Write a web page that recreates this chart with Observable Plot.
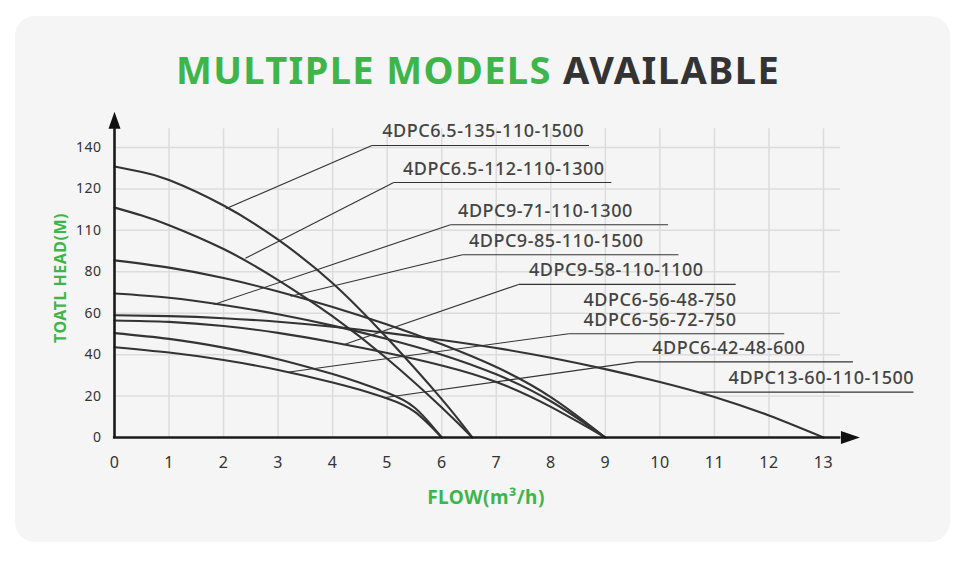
<!DOCTYPE html>
<html><head><meta charset="utf-8">
<script src="https://cdn.jsdelivr.net/npm/d3@7"></script>
<script src="https://cdn.jsdelivr.net/npm/@observablehq/plot@0.6"></script>
<style>
html,body{margin:0;padding:0;background:#fff;}
#wrap{position:relative;width:970px;height:563px;overflow:hidden;font-family:"Noto Sans",sans-serif;}
#panel{position:absolute;left:15px;top:16px;width:935px;height:526px;background:#f5f5f5;border-radius:20px;}
#title{position:absolute;left:-7px;top:49px;width:970px;text-align:center;font-weight:700;font-size:38px;line-height:40px;letter-spacing:1.4px;color:#333;white-space:nowrap;}
#title .g{color:#3db54a;}
#chart{position:absolute;left:0;top:0;}
</style></head>
<body><div id="wrap"><div id="panel"></div><div id="title"><span class="g">MULTIPLE MODELS</span> AVAILABLE</div><div id="chart"></div></div>
<script>
// ---- data (flow m3/h, head m) ----
const flowA = [0, 0.5, 1, 2, 3, 4, 5, 6, 6.56];
const headA = [130.8, 128.2, 124.3, 112, 95.5, 74.5, 48, 18.5, 0];
const flowB = [0, 0.5, 1, 2, 3, 4, 5, 6, 6.56];
const headB = [111, 107.2, 102.5, 91, 76, 58.5, 38, 14.5, 0];
const flowC = [0, 1, 2, 3, 4, 5, 6, 7, 8, 9];
const headC = [85.5, 82, 77, 70.5, 63, 54.5, 45, 34, 19.5, 0];
const flowD = [0, 1, 2, 3, 4, 5, 6, 7, 8, 9];
const headD = [69.5, 67.5, 64, 59.5, 54, 47.5, 40, 30.5, 17.5, 0];
const flowE = [0, 1, 2, 3, 4, 5, 6, 7, 8, 9, 10, 11, 12, 13];
const headE = [59, 58.6, 57.6, 55.9, 53.5, 50.5, 47.1, 43.2, 38.5, 33, 26.8, 19.6, 10.6, 0];
const flowF = [0, 1, 2, 3, 4, 5, 6, 7, 8, 9];
const headF = [56.5, 55.8, 53.8, 50.5, 46, 40.8, 34.8, 26.8, 14.8, 0];
const flowG = [0, 1, 2, 3, 4, 4.5, 5, 5.5, 6];
const headG = [50.4, 47.6, 43.4, 37.8, 30.6, 26.4, 21.6, 14.5, 0];
const flowH = [0, 1, 2, 3, 4, 4.5, 5, 5.5, 6];
const headH = [43.6, 41, 37.4, 32.6, 26.6, 23, 18.8, 12.5, 0];

const labelNames = ["4DPC6.5-135-110-1500", "4DPC6.5-112-110-1300", "4DPC9-71-110-1300", "4DPC9-85-110-1500",
  "4DPC9-58-110-1100", "4DPC6-56-48-750\n4DPC6-56-72-750", "4DPC6-42-48-600", "4DPC13-60-110-1500"];
const anchorFlow = [2.04, 2.40, 1.82, 3.23, 4.20, 3.17, 4.94, 10.74];
const anchorHead = [110.4, 86.5, 64.2, 68.2, 44.8, 31.5, 19.2, 21.9];
const bendFlow = [4.72, 5.12, 6.16, 6.38, 7.41, 8.33, 9.58, 10.74];
const bendHead = [141.0, 123.1, 102.7, 88.2, 73.9, 50.1, 36.5, 21.9];
const endFlow = [8.70, 9.11, 10.15, 10.34, 11.39, 12.28, 13.54, 14.65];
const textFlow = [4.91, 5.29, 6.30, 6.50, 7.60, 8.60, 9.86, 11.26];

const xTicks = [0, 1, 2, 3, 4, 5, 6, 7, 8, 9, 10, 11, 12, 13];
const yTicks = [0, 20, 40, 60, 80, 100, 120, 140];
const yTickLabels = ["0", "20", "40", "60", "80", "110", "120", "140"];
const xGrid = [1, 2, 3, 4, 5, 6, 7, 8, 9, 10, 11, 12, 13];
const yGrid = [20, 40, 60, 80, 100, 120, 140];

// ---- build tables ----
const series = [[flowA, headA, "A"], [flowB, headB, "B"], [flowC, headC, "C"], [flowD, headD, "D"],
  [flowE, headE, "E"], [flowF, headF, "F"], [flowG, headG, "G"], [flowH, headH, "H"]];
const curves = series.flatMap(([f, h, id]) => f.map((q, i) => ({model: id, flow: q, head: h[i]})));
const leaders = labelNames.map((name, i) => ({name, ax: anchorFlow[i], ay: anchorHead[i], bx: bendFlow[i], by: bendHead[i], ex: endFlow[i], tx: textFlow[i]}));

const upArrow = {draw(ctx) { ctx.moveTo(0, -17); ctx.lineTo(6, 0); ctx.lineTo(-6, 0); ctx.closePath(); }};
const rightArrow = {draw(ctx) { ctx.moveTo(19, 0); ctx.lineTo(0, -6.5); ctx.lineTo(0, 6.5); ctx.closePath(); }};

const font = "Noto Sans, sans-serif";
const green = "#3db54a";

const chart = Plot.plot({
  width: 970, height: 563,
  marginLeft: 114, marginRight: 147, marginTop: 147, marginBottom: 126,
  style: {background: "transparent", overflow: "visible", fontFamily: font},
  x: {domain: [0, 13], axis: null},
  y: {domain: [0, 140], axis: null},
  marks: [
    Plot.ruleX(xGrid, {x: d => d, y1: 0, y2: 149, stroke: "#dcdcdc", strokeWidth: 1.5}),
    Plot.ruleY(yGrid, {y: d => d, x1: 0, x2: 13.31, stroke: "#dcdcdc", strokeWidth: 1.5}),
    Plot.line(curves, {x: "flow", y: "head", z: "model", curve: "natural", stroke: "#333", strokeWidth: 2.1}),
    Plot.link(leaders, {x1: "ax", y1: "ay", x2: "bx", y2: "by", stroke: "#333", strokeWidth: 1.1}),
    Plot.link(leaders, {x1: "bx", y1: "by", x2: "ex", y2: "by", stroke: "#333", strokeWidth: 1.1}),
    Plot.text(leaders, {x: "tx", y: "by", text: "name", textAnchor: "start", lineAnchor: "bottom", dy: -8, lineHeight: 1.1,
      fontSize: 18, fontWeight: 500, fill: "#444", fontFamily: font}),
    Plot.ruleX([0], {y1: 0, y2: 149, stroke: "#1a1a1a", strokeWidth: 2.6}),
    Plot.ruleY([0], {x1: -0.02, x2: 13.32, stroke: "#1a1a1a", strokeWidth: 2.6}),
    Plot.dot([0], {x: 0, y: 149, symbol: upArrow, fill: "#111", stroke: "none", r: 5}),
    Plot.dot([0], {x: 13.32, y: 0, symbol: rightArrow, fill: "#111", stroke: "none", r: 5}),
    Plot.text(yTicks, {x: 0, y: d => d, text: (d, i) => yTickLabels[i], textAnchor: "end", dx: -13, fontSize: 14, fill: "#333", fontFamily: font}),
    Plot.text(xTicks, {x: d => d, y: 0, text: d => String(d), dy: 25, fontSize: 16, fill: "#333", fontFamily: font}),
    Plot.text(["TOATL HEAD(M)"], {frameAnchor: "left", textAnchor: "middle", lineAnchor: "middle", rotate: -90, dx: -54, dy: -14.5, fontSize: 16, fontWeight: 700, fill: green, fontFamily: font}),
    Plot.text(["FLOW(m³/h)"], {frameAnchor: "bottom", textAnchor: "middle", lineAnchor: "middle", dx: 17, dy: 60, fontSize: 19, fontWeight: 700, fill: green, fontFamily: font})
  ]
});
chart.style.letterSpacing = "0.5px";
document.getElementById("chart").appendChild(chart);
</script>
</body></html>
